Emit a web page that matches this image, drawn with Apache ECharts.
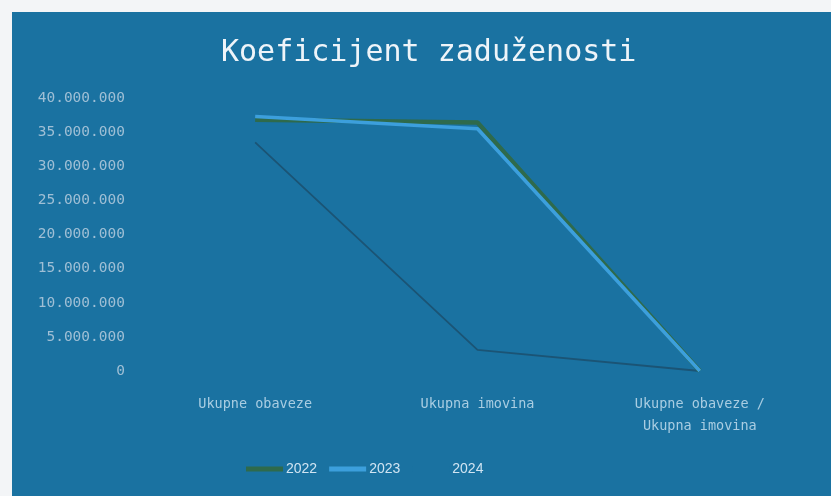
<!DOCTYPE html>
<html>
<head>
<meta charset="utf-8">
<script src="https://cdn.jsdelivr.net/npm/echarts@6/dist/echarts.min.js"></script>
<style>
html,body{margin:0;padding:0;background:#f3f5f7;}
#chart{width:831px;height:496px;}
</style>
</head>
<body>
<div id="chart"></div>
<script>
const categories = ['Ukupne obaveze', 'Ukupna imovina', 'Ukupne obaveze /\nUkupna imovina'];
const seriesNames = ['2022', '2023', '2024'];
const values2022 = [36800000, 36400000, 1];
const values2023 = [37300000, 35500000, 1];
const values2024 = [33500000, 3100000, 0];
const yTicks = [0, 5000000, 10000000, 15000000, 20000000, 25000000, 30000000, 35000000, 40000000];

const chart = echarts.init(document.getElementById('chart'));
function fmt(v){ return String(Math.round(v)).replace(/\B(?=(\d{3})+(?!\d))/g, '.'); }
chart.setOption({
  backgroundColor: '#f3f5f7',
  graphic: [{
    type: 'rect', z: -10, silent: true,
    shape: {x: 12, y: 12, width: 831, height: 496},
    style: {fill: '#1a72a1'}
  }],
  title: {
    text: 'Koeficijent zaduženosti',
    left: 216, top: 33,
    textStyle: {color: '#eef4f9', fontSize: 30, fontWeight: 'normal', fontFamily: 'DejaVu Sans Mono'}
  },
  legend: {
    left: 241, top: 457,
    itemWidth: 37, itemHeight: 5, itemGap: 12,
    icon: 'rect',
    textStyle: {color: '#d0e4f2', fontSize: 14, fontFamily: 'Liberation Sans', padding: [0,0,0,-2]},
    data: [
      {name: seriesNames[0]},
      {name: seriesNames[1]},
      {name: seriesNames[2], itemStyle: {color: '#1a72a1'}}
    ]
  },
  grid: {left: 144, right: 20, top: 98, bottom: 125},
  xAxis: {
    type: 'category', data: categories, boundaryGap: true,
    axisLine: {show: false}, axisTick: {show: false},
    axisLabel: {color: '#a9cde2', fontSize: 13.5, margin: 22, lineHeight: 22, fontFamily: 'DejaVu Sans Mono'}
  },
  yAxis: {
    type: 'value', min: yTicks[0], max: yTicks[yTicks.length-1], interval: 5000000,
    splitLine: {show: false}, axisLine: {show: false}, axisTick: {show: false},
    axisLabel: {color: '#9fbfd5', fontSize: 14.5, margin: 19, formatter: fmt, fontFamily: 'DejaVu Sans Mono'}
  },
  series: [
    {name: seriesNames[0], type: 'line', data: values2022, symbol: 'none', z: 2,
     lineStyle: {width: 4.5, color: '#2e6a4c'}, itemStyle: {color: '#2e6a4c'}},
    {name: seriesNames[1], type: 'line', data: values2023, symbol: 'none', z: 3,
     lineStyle: {width: 3.5, color: '#3c9fdc'}, itemStyle: {color: '#3c9fdc'}},
    {name: seriesNames[2], type: 'line', data: values2024, symbol: 'none', z: 1,
     lineStyle: {width: 1.8, color: '#1b5475'}, itemStyle: {color: '#1a6e9c'}}
  ]
});
</script>
</body>
</html>
